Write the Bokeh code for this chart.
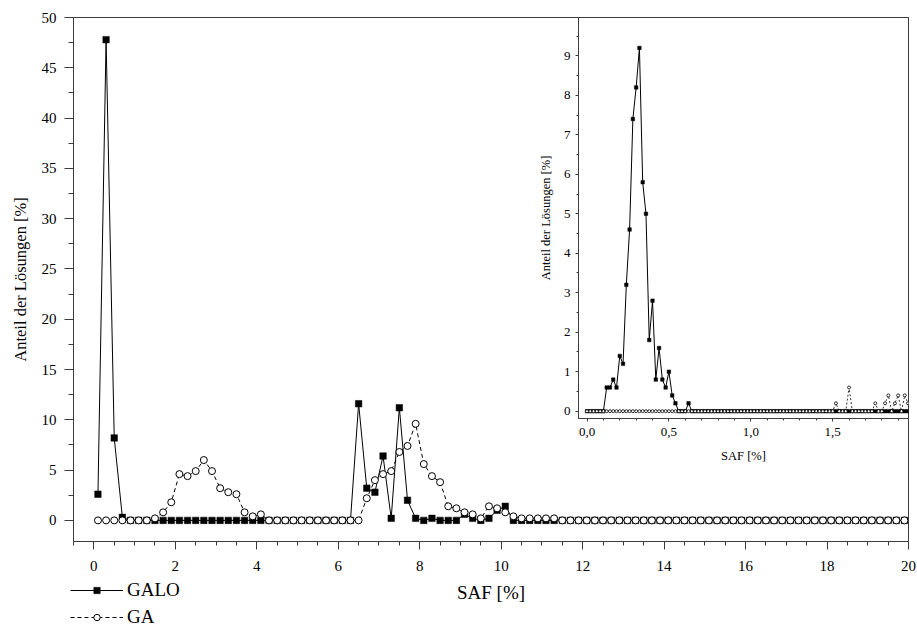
import numpy as np
from bokeh.plotting import figure
from bokeh.layouts import column
from bokeh.models import (SingleIntervalTicker, Legend, LegendItem,
                          CustomJSTickFormatter, Range1d)
from bokeh.embed import file_html
from bokeh.resources import INLINE

FONT = "'Liberation Serif', 'Times New Roman', serif"
AX = "#3c3c3c"

# ---------------- data ----------------
# main plot: bin centres 0.1 ... 19.9 (step 0.2)
main_x = np.round(np.arange(0.1, 20.0, 0.2), 1)
galo = [2.6, 47.8, 8.2, 0.3,
        0, 0, 0, 0, 0, 0, 0, 0, 0, 0, 0, 0, 0, 0,
        0, 0, 0, 0, 0, 0, 0, 0, 0, 0, 0, 0, 0, 0,
        11.6, 3.2, 2.8, 6.4, 0.2, 11.2, 2.0, 0.2, 0, 0.2,
        0, 0, 0, 0.6, 0.2, 0, 0.2, 1.0, 1.4,
        0, 0, 0, 0, 0, 0, 0, 0, 0, 0, 0, 0, 0, 0, 0, 0, 0,
        0, 0, 0, 0, 0, 0, 0, 0, 0, 0, 0, 0, 0, 0, 0, 0,
        0, 0, 0, 0, 0, 0, 0, 0, 0, 0, 0, 0, 0, 0, 0, 0]
ga = [0, 0, 0, 0, 0, 0, 0,
      0.2, 0.8, 1.8, 4.6, 4.4, 4.9, 6.0, 4.9, 3.2, 2.8, 2.6, 0.8, 0.4, 0.6,
      0, 0, 0, 0, 0, 0, 0, 0, 0, 0, 0, 0,
      2.2, 4.0, 4.6, 4.9, 6.8, 7.4, 9.6, 5.6, 4.4, 3.8, 1.4, 1.2,
      0.8, 0.6, 0.2, 1.4, 1.2, 0.8, 0.4, 0.2, 0.2, 0.2, 0.2, 0.2,
      0, 0, 0, 0, 0, 0, 0, 0, 0, 0, 0, 0, 0, 0, 0, 0, 0, 0, 0, 0, 0, 0,
      0, 0, 0, 0, 0, 0, 0, 0, 0, 0, 0, 0, 0, 0, 0, 0, 0, 0, 0, 0, 0]

# inset: bin centres 0.00 ... 1.98 (step 0.02)
inset_x = np.round(np.arange(0.0, 1.99, 0.02), 2)
galo_fine = [0, 0, 0, 0, 0, 0,
             0.6, 0.6, 0.8, 0.6, 1.4, 1.2, 3.2, 4.6, 7.4, 8.2, 9.2,
             5.8, 5.0, 1.8, 2.8, 0.8, 1.6, 0.8, 0.6, 1.0, 0.4, 0.2,
             0, 0, 0, 0.2,
             0, 0, 0, 0, 0, 0, 0, 0, 0, 0, 0, 0, 0, 0, 0, 0, 0,
             0, 0, 0, 0, 0, 0, 0, 0, 0, 0, 0, 0, 0, 0, 0, 0, 0,
             0, 0, 0, 0, 0, 0, 0, 0, 0, 0, 0, 0, 0, 0, 0, 0, 0,
             0, 0, 0, 0, 0, 0, 0, 0, 0, 0, 0, 0, 0, 0, 0, 0, 0]
ga_fine = [0, 0, 0, 0, 0, 0, 0, 0, 0, 0, 0, 0, 0, 0, 0, 0, 0, 0, 0, 0,
           0, 0, 0, 0, 0, 0, 0, 0, 0, 0, 0, 0, 0, 0, 0, 0, 0, 0, 0, 0,
           0, 0, 0, 0, 0, 0, 0, 0, 0, 0, 0, 0, 0, 0, 0, 0, 0, 0, 0, 0,
           0, 0, 0, 0, 0, 0, 0, 0, 0, 0, 0, 0, 0, 0, 0, 0,
           0.2, 0, 0, 0, 0.6, 0, 0, 0, 0, 0, 0, 0, 0.2, 0, 0, 0.2, 0.4,
           0, 0.2, 0.4, 0, 0.4, 0.2, 0]

series_labels = ["GALO", "GA"]


def style_axis(ax, tick_size, label_size, major_out, minor_out, label_standoff, axis_standoff):
    ax.axis_line_color = AX
    ax.major_tick_line_color = AX
    ax.minor_tick_line_color = AX
    ax.major_tick_in = 0
    ax.minor_tick_in = 0
    ax.major_tick_out = major_out
    ax.minor_tick_out = minor_out
    ax.major_label_text_font = FONT
    ax.major_label_text_font_size = tick_size
    ax.major_label_text_color = "black"
    ax.major_label_standoff = label_standoff
    ax.axis_label_text_font = FONT
    ax.axis_label_text_font_style = "normal"
    ax.axis_label_text_font_size = label_size
    ax.axis_label_text_color = "black"
    ax.axis_label_standoff = axis_standoff


# ---------------- main figure ----------------
p = figure(width=917, height=626, x_range=Range1d(-0.5, 20), y_range=Range1d(-2.1, 50),
           output_backend="svg", toolbar_location=None,
           min_border_left=73, min_border_right=9, min_border_top=17, min_border_bottom=85,
           x_axis_label="SAF [%]", y_axis_label="Anteil der Lösungen [%]")
p.xgrid.visible = False
p.ygrid.visible = False
p.outline_line_color = AX
p.xaxis.ticker = SingleIntervalTicker(interval=2, num_minor_ticks=4)
p.yaxis.ticker = SingleIntervalTicker(interval=5, num_minor_ticks=2)
style_axis(p.xaxis[0], "15px", "19px", 8, 4, 11, 8)
style_axis(p.yaxis[0], "15px", "16.5px", 9, 5, 8, 9)

p.line(main_x, galo, line_color="black", line_width=1)
p.scatter(main_x, galo, marker="square", size=6.5, fill_color="black", line_color="black", line_width=0.5)
p.line(main_x, ga, line_color="black", line_width=1, line_dash="4 3")
p.scatter(main_x, ga, marker="circle", size=7, fill_color="white", line_color="black", line_width=1)

# ---------------- inset figure ----------------
q = figure(width=412, height=470, x_range=Range1d(-0.052, 1.963), y_range=Range1d(-0.185, 9.97),
           output_backend="svg", toolbar_location=None,
           min_border_left=73, min_border_right=9, min_border_top=17, min_border_bottom=52,
           x_axis_label="SAF [%]", y_axis_label="Anteil der Lösungen [%]")
q.xgrid.visible = False
q.ygrid.visible = False
q.outline_line_color = AX
q.border_fill_alpha = 0
q.background_fill_color = "white"
q.xaxis.ticker = SingleIntervalTicker(interval=0.5, num_minor_ticks=5)
q.yaxis.ticker = SingleIntervalTicker(interval=1, num_minor_ticks=2)
q.xaxis.formatter = CustomJSTickFormatter(code="return tick.toFixed(1).replace('.', ',');")
style_axis(q.xaxis[0], "13px", "12.5px", 3, 2, 6, 10)
style_axis(q.yaxis[0], "13px", "12.5px", 3, 2, 5, 8)

q.line(inset_x, galo_fine, line_color="black", line_width=1)
q.scatter(inset_x, galo_fine, marker="square", size=3.5, fill_color="black", line_color="black", line_width=0.5)
q.line(inset_x, ga_fine, line_color="black", line_width=0.8, line_dash="2 2")
q.scatter(inset_x, ga_fine, marker="circle", size=3, fill_color="white", line_color="black", line_width=0.8)
q.margin = (-626, 0, 0, 505)

# ---------------- legend (own small frame, below the main plot) ----------------
lg = figure(width=282, height=47, x_range=Range1d(100, 101), y_range=Range1d(100, 101),
            output_backend="svg", toolbar_location=None,
            x_axis_location=None, y_axis_location=None,
            min_border_left=73, min_border_right=9, min_border_top=0, min_border_bottom=0)
lg.xgrid.visible = False
lg.ygrid.visible = False
lg.outline_line_color = None
lg.background_fill_alpha = 0
lg.border_fill_alpha = 0
k1 = lg.line(main_x, galo, line_color="black", line_width=1)
k2 = lg.scatter(main_x, galo, marker="square", fill_color="black", line_color="black", line_width=0.5)
k3 = lg.line(main_x, ga, line_color="black", line_width=1, line_dash="4 3")
k4 = lg.scatter(main_x, ga, marker="circle", fill_color="white", line_color="black", line_width=1)
legend = Legend(items=[LegendItem(label=series_labels[0], renderers=[k1, k2]),
                       LegendItem(label=series_labels[1], renderers=[k3, k4])],
                location="top_left", orientation="vertical",
                border_line_color=None, background_fill_alpha=0,
                padding=0, margin=0, spacing=5,
                glyph_width=53, glyph_height=16, label_height=16,
                label_standoff=4, label_text_font=FONT, label_text_font_size="19px",
                label_text_color="black")
lg.add_layout(legend)
lg.margin = (109, 0, 0, -3)

layout = column(p, q, lg)
open("out.html", "w").write(file_html(layout, INLINE))
